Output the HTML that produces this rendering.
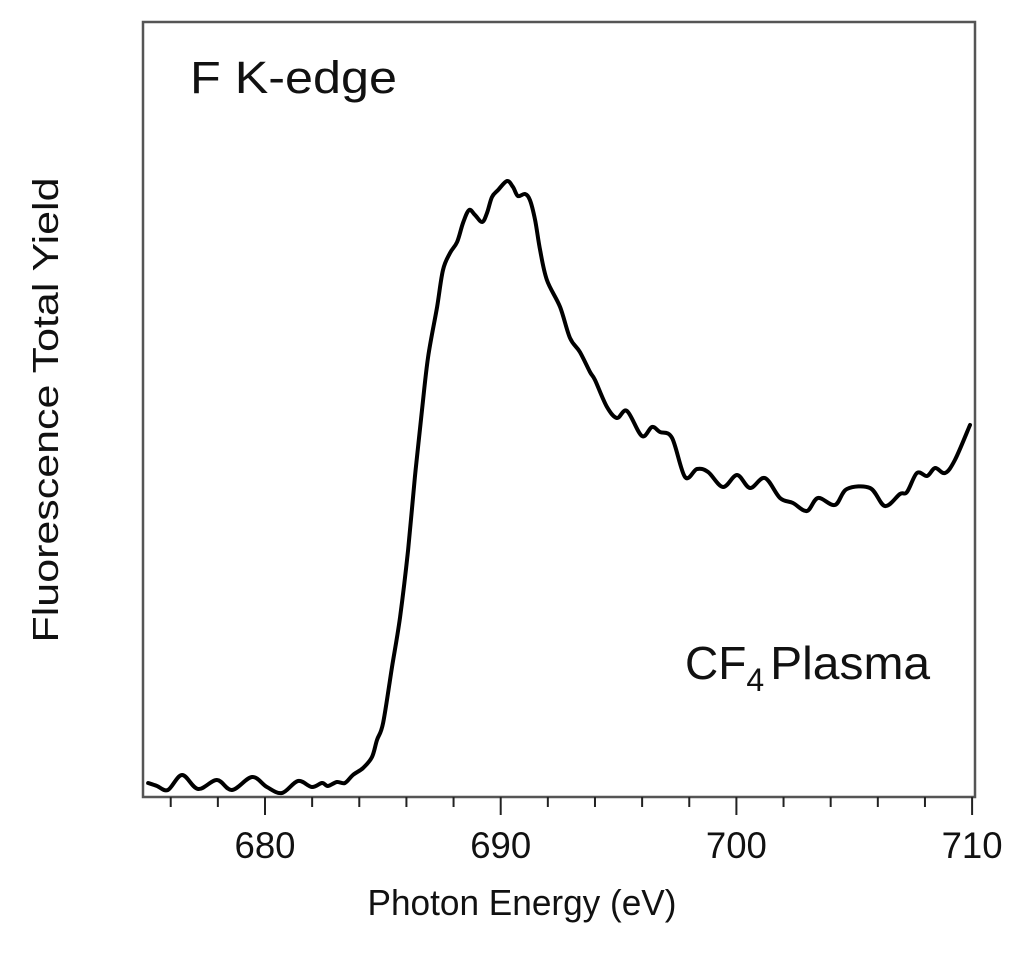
<!DOCTYPE html>
<html><head><meta charset="utf-8"><style>
html,body{margin:0;padding:0;background:#fff;}
svg{display:block;font-family:"Liberation Sans",sans-serif;}
</style></head><body>
<svg id="chart" width="1024" height="963" viewBox="0 0 1024 963" xmlns="http://www.w3.org/2000/svg">
<rect x="143" y="22" width="832" height="775" fill="none" stroke="#555" stroke-width="2.5"/>
<g id="ticks"></g>
<g id="tickLabels" font-size="37" fill="#111" text-anchor="middle"></g>
<text x="522" y="915" font-size="36" fill="#111" text-anchor="middle" textLength="309" lengthAdjust="spacingAndGlyphs">Photon Energy (eV)</text>
<text transform="translate(58,410) rotate(-90)" font-size="36" fill="#111" text-anchor="middle" textLength="465" lengthAdjust="spacingAndGlyphs">Fluorescence Total Yield</text>
<text x="190" y="93" font-size="45" fill="#111" textLength="207" lengthAdjust="spacingAndGlyphs">F K-edge</text>
<text x="685" y="679" font-size="46" fill="#111">CF<tspan font-size="32" dy="12">4</tspan><tspan dy="-12" dx="6" textLength="160" lengthAdjust="spacingAndGlyphs">Plasma</tspan></text>
<path id="curve" fill="none" stroke="#000" stroke-width="4" stroke-linejoin="round" stroke-linecap="round"/>
</svg>
<script>
const energies=[675.04,675.42,675.88,676.48,677.16,677.96,678.60,679.45,680.08,680.72,681.40,681.99,682.42,682.67,683.05,683.39,683.73,684.16,684.54,684.75,
685.01,685.39,685.73,686.07,686.36,686.66,686.92,687.30,687.55,687.85,688.15,688.40,688.66,688.91,689.21,689.42,689.63,689.89,690.27,690.52,690.73,691.03,691.24,691.46,691.67,691.96,692.52,692.94,693.36,693.79,694.00,694.51,694.93,695.36,695.99,696.42,696.76,697.27,697.82,698.33,698.80,699.43,700.03,700.58,701.21,701.85,702.40,702.99,703.46,704.18,704.69,705.67,706.30,706.94,707.24,707.66,708.09,708.43,708.85,709.27,709.91];
const intensity=[12,9,5,20,6,15,5,18,8,2,14,8,12,9,13,12,20,27,38,55,
72,128,178,245,318,385,438,488,525,542,553,572,585,580,573,582,598,605,614,608,599,601,595,575,545,515,488,457,443,423,415,388,377,384,359,368,363,357,318,326,323,308,320,307,317,297,292,284,297,290,306,307,289,301,303,322,319,327,322,335,370];
const majorTicks=[680,690,700,710];
const minorTicks=[676,678,682,684,686,688,692,694,696,698,702,704,706,708];
const tickLabels=["680","690","700","710"];

function xScale(v){return 265+(v-680)*23.57;}
function yScale(v){return 795-v;}
const NS="http://www.w3.org/2000/svg";
const tg=document.getElementById('ticks');
majorTicks.forEach(function(t){
  const l=document.createElementNS(NS,'line');
  
  
  l.setAttribute('x1',xScale(t));l.setAttribute('x2',xScale(t));
  l.setAttribute('y1',797);l.setAttribute('y2',815);
  l.setAttribute('stroke','#222');l.setAttribute('stroke-width','2');
  tg.appendChild(l);
});
minorTicks.forEach(function(t){
  const l=document.createElementNS(NS,'line');
  
  
  l.setAttribute('x1',xScale(t));l.setAttribute('x2',xScale(t));
  l.setAttribute('y1',797);l.setAttribute('y2',807);
  l.setAttribute('stroke','#222');l.setAttribute('stroke-width','2');
  tg.appendChild(l);
});
const lg=document.getElementById('tickLabels');
majorTicks.forEach(function(t,i){
  const tx=document.createElementNS(NS,'text');
  
  
  tx.setAttribute('x',xScale(t));tx.setAttribute('y',858);
  tx.setAttribute('textLength','61');
  tx.setAttribute('lengthAdjust','spacingAndGlyphs');
  tx.textContent=tickLabels[i];
  lg.appendChild(tx);
});
const pts=energies.map(function(e,i){return [xScale(e),yScale(intensity[i])];});
let d='M'+pts[0][0].toFixed(1)+','+pts[0][1].toFixed(1);
for(let i=0;i<pts.length-1;i++){
  const p0=pts[Math.max(0,i-1)],p1=pts[i],p2=pts[i+1],p3=pts[Math.min(pts.length-1,i+2)];
  const c1x=p1[0]+(p2[0]-p0[0])/6,c1y=p1[1]+(p2[1]-p0[1])/6;
  const c2x=p2[0]-(p3[0]-p1[0])/6,c2y=p2[1]-(p3[1]-p1[1])/6;
  d+=' C'+c1x.toFixed(1)+','+c1y.toFixed(1)+' '+c2x.toFixed(1)+','+c2y.toFixed(1)+' '+p2[0].toFixed(1)+','+p2[1].toFixed(1);
}
document.getElementById('curve').setAttribute('d',d);
</script>
</body></html>
